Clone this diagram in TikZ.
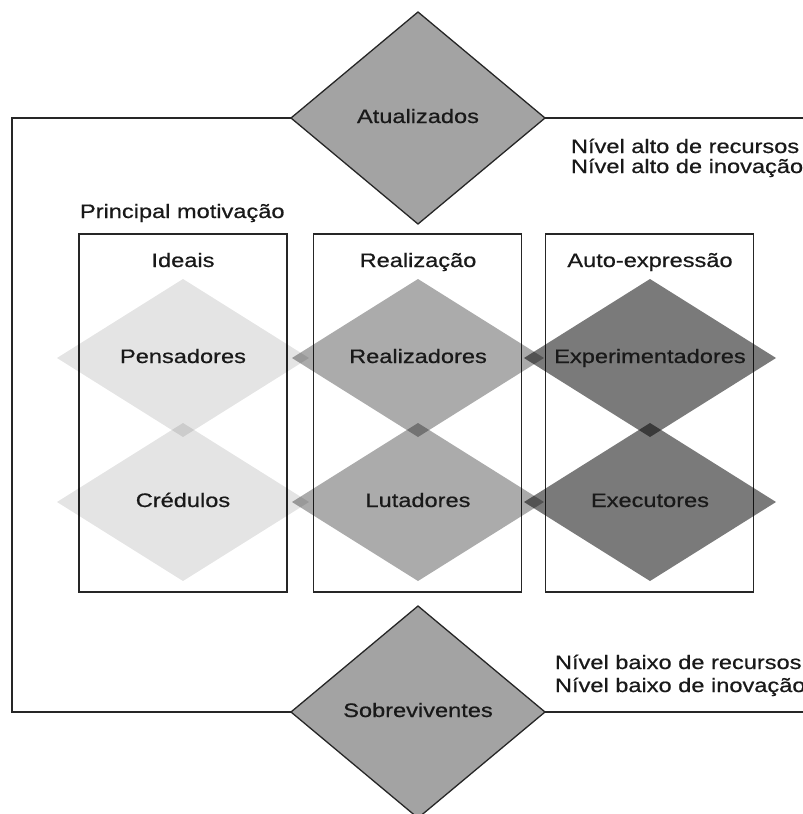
\documentclass[tikz,border=0pt]{standalone}
\usepackage{fontspec}
\setmainfont{Liberation Sans}[FakeStretch=1.21,FakeBold=0.7]
\usetikzlibrary{shapes.geometric}
\begin{document}
\begin{tikzpicture}[x=1pt,y=-1pt,
  every node/.style={font=\fontsize{19.5}{23}\selectfont, inner sep=0pt, outer sep=0pt},
  frameline/.style={line width=1.3pt, draw=black!85},
  bigdia/.style={diamond, draw=black!85, line width=1.3pt, fill=black!36,
    minimum width=254pt, minimum height=212pt},
  smalldia/.style={diamond, fill=black, minimum width=252pt, minimum height=158pt},
  lightdia/.style={smalldia, fill opacity=0.105},
  middia/.style={smalldia, fill opacity=0.33},
  darkdia/.style={smalldia, fill opacity=0.52},
  dialabel/.style={text height=14pt, text depth=4pt, text=black!90},
  colbox/.style={draw=black!85, line width=1.2pt, rectangle, minimum width=208pt, minimum height=358pt},
  plain/.style={anchor=base west, text=black!90}
]
\useasboundingbox (0,0) rectangle (803,814);

% column boxes
\node[colbox] (b1) at (183,413) {};
\node[colbox] (b2) at (417.5,413) {};
\node[colbox] (b3) at (649.5,413) {};

% column headers
\node[anchor=base, text=black!90] (h1) at (183,267) {Ideais};
\node[anchor=base, text=black!90] (h2) at (418,267) {Realização};
\node[anchor=base, text=black!90] (h3) at (650,267) {Auto-expressão};

% segment diamonds
\node[lightdia] (pen) at (183,358) {};
\node[lightdia] (cre) at (183,502) {};
\node[middia] (rea) at (418,358) {};
\node[middia] (lut) at (418,502) {};
\node[darkdia] (exp) at (650,358) {};
\node[darkdia] (exe) at (650,502) {};
\node[dialabel] (penl) at (pen) {Pensadores};
\node[dialabel] (crel) at (cre) {Crédulos};
\node[dialabel] (real) at (rea) {Realizadores};
\node[dialabel] (lutl) at (lut) {Lutadores};
\node[dialabel] (expl) at (exp) {Experimentadores};
\node[dialabel] (exel) at (exe) {Executores};

% big diamonds
\node[bigdia] (atu) at (418,118) {};
\node[bigdia] (sob) at (418,712) {};
\node[dialabel] (atul) at (atu) {Atualizados};
\node[dialabel] (sobl) at (sob) {Sobreviventes};

% frame
\coordinate (tl) at (12,118);
\coordinate (bl) at (12,712);
\coordinate (tr) at (810,118);
\coordinate (br) at (810,712);
\draw[frameline] (atu.west) -- (tl) -- (bl) -- (sob.west);
\draw[frameline] (atu.east) -- (tr);
\draw[frameline] (sob.east) -- (br);

% texts
\node[plain] (pm) at (80,218) {Principal motivação};
\node[plain] (ar) at (571,153) {Nível alto de recursos};
\node[plain] (ai) at (571,173) {Nível alto de inovação};
\node[plain] (br1) at (555,669) {Nível baixo de recursos};
\node[plain] (bi) at (555,692) {Nível baixo de inovação};
\end{tikzpicture}
\end{document}
